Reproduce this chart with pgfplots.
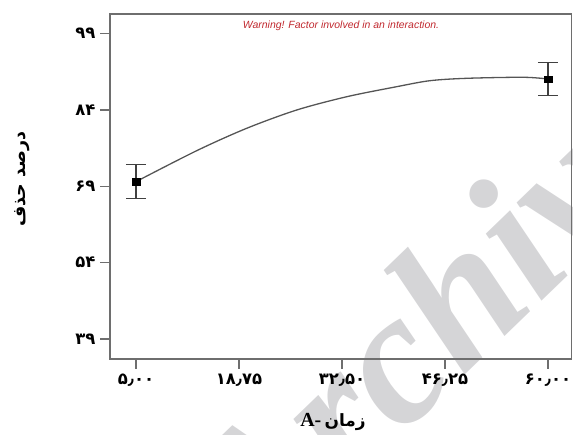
\documentclass[border=0pt]{standalone}
\usepackage{pgfplots}
\pgfplotsset{compat=1.18}
\usepackage{fontspec}
\setmainfont{Liberation Serif}
\newfontfamily\arabicfont[Script=Arabic]{DejaVu Sans}
\newfontfamily\arialfont{Liberation Sans}
\TeXXeTstate=1
\definecolor{axgray}{HTML}{6E6E6E}
\definecolor{curvegray}{HTML}{555555}
\definecolor{warnred}{HTML}{C0282E}
\definecolor{wm}{HTML}{D5D5D7}
\begin{document}
\begin{tikzpicture}[x=1bp,y=1bp]
\path[use as bounding box] (0,0) rectangle (573,435);
\node[rotate=44, anchor=base west, text=wm, inner sep=0, font=\fontsize{190}{190}\selectfont\bfseries\itshape] at (258,-140) {Archive};
\begin{axis}[
  at={(110bp,76bp)}, anchor=south west, scale only axis,
  width=461.5bp, height=345bp,
  xmin=1.53, xmax=63.14, ymin=35.07, ymax=102.83,
  axis line style={draw=axgray, line width=1.3bp},
  tick pos=left, tick align=outside, major tick length=10bp,
  tick style={draw=axgray, line width=1.3bp},
  xtick={5,18.75,32.5,46.25,60},
  xticklabels={۵٫۰۰,۱۸٫۷۵,۳۲٫۵۰,۴۶٫۲۵,۶۰٫۰۰},
  ytick={39,54,69,84,99},
  yticklabels={۳۹,۵۴,۶۹,۸۴,۹۹},
  ticklabel style={font=\arabicfont\bfseries\fontsize{16.5}{16.5}\selectfont},
  xticklabel style={yshift=-1bp},
  yticklabel style={xshift=-1bp},
  clip=false,
]
\addplot[smooth, draw=curvegray, line width=1.3bp] coordinates {
  (5,69.9) (13.1,75.98) (19.78,80.38) (26.45,83.97) (33.13,86.58)
  (39.8,88.55) (44.25,89.73) (49.2,90.2) (56.7,90.4) (60,90.06)};
\addplot[only marks, mark=square*, mark size=4bp,
  mark options={fill=black, draw=black, yscale=0.8},
  error bars/.cd, y dir=both, y explicit, error mark=-,
  error bar style={draw=black!75, line width=1.2bp},
  error mark options={draw=black!75, line width=1.2bp, mark size=10bp, rotate=90}]
  coordinates {(5,69.9) +- (0,3.35) (60,90.06) +- (0,3.25)};
\end{axis}
\node[font=\arialfont\itshape\fontsize{10.5}{11}\selectfont, text=warnred] at (341,409) {Warning! Factor involved in an interaction.};
\node[font=\fontsize{20}{20}\selectfont] at (333,13) {\textbf{A-}\,{\arabicfont\bfseries\fontsize{17}{17}\selectfont زمان}};
\node[rotate=90, font=\arabicfont\bfseries\fontsize{17.5}{17.5}\selectfont] at (22,256) {\beginR درصد حذف\endR};
\end{tikzpicture}
\end{document}
